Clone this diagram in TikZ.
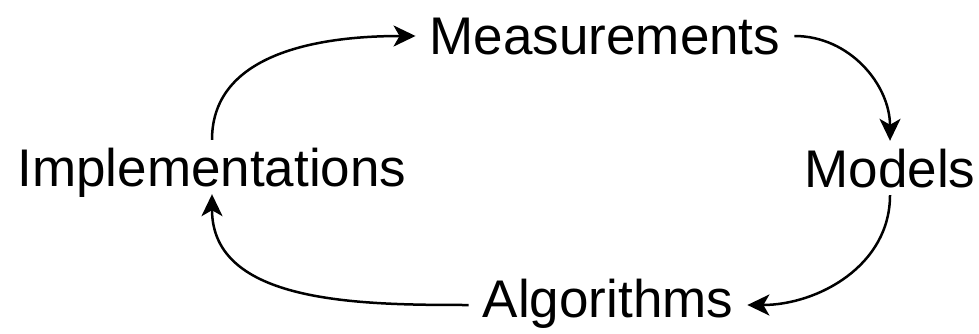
\documentclass[tikz,border=0pt]{standalone}
\usepackage{fontspec}
\setmainfont{Liberation Sans}
\usetikzlibrary{arrows.meta}
\begin{document}
\begin{tikzpicture}[x=1pt,y=-1pt]
  \tikzstyle{every node}=[anchor=base,font=\fontsize{53}{60}\selectfont,text height=38pt,text depth=0pt,inner xsep=14pt,inner ysep=8pt]
  \tikzstyle{flow}=[-{Stealth[length=22pt,width=21pt,inset=6pt]},line width=2.5pt]
  \useasboundingbox (0,0) rectangle (979,334);
  \node (meas)   at (605,55)  {Measurements};
  \node (impl)   at (212,186) {Implementations};
  \node (models) at (890,187) {Models};
  \node (alg)    at (608,317) {Algorithms};
  \draw [flow] (impl.north) to[out=90,in=180] (meas.west);
  \draw [flow] (meas.east) to[out=0,in=90] (models.north);
  \draw [flow] (models.south) to[out=-90,in=0] ([yshift=-7pt]alg.east);
  \draw [flow] ([yshift=-7pt]alg.west) to[out=180,in=-90] (impl.south);
\end{tikzpicture}
\end{document}
